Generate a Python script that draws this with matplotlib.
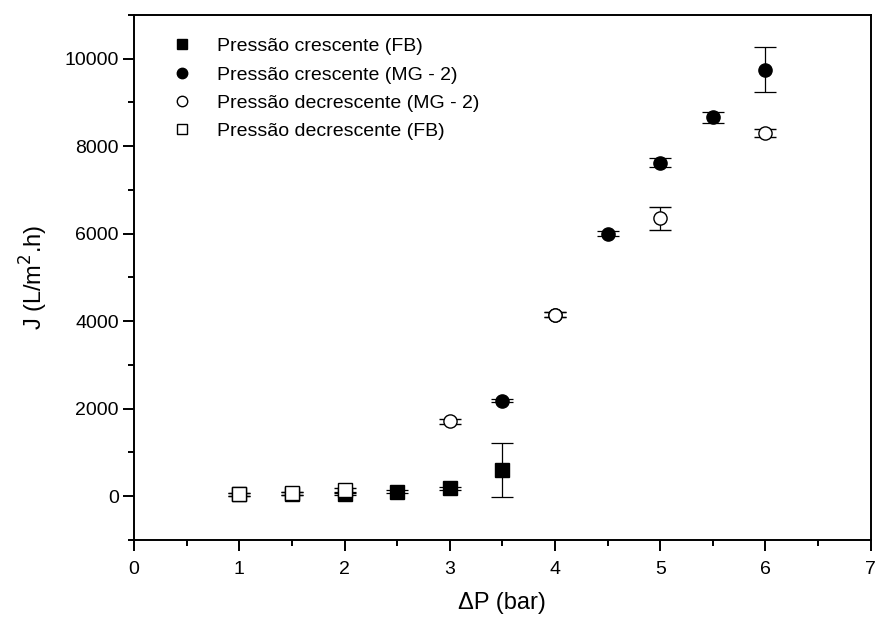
import matplotlib
matplotlib.use("Agg")
import matplotlib.pyplot as plt
from matplotlib.ticker import MultipleLocator

plt.rcParams['font.family'] = ['Liberation Sans', 'DejaVu Sans']

# --- dados ---
x_fb_up = [1.0, 1.5, 2.0, 2.5, 3.0, 3.5]
j_fb_up = [40, 60, 60, 100, 175, 590]
e_fb_up = [30, 30, 30, 30, 40, 615]

x_mg_up = [3.5, 4.0, 4.5, 5.0, 5.5, 6.0]
j_mg_up = [2180, 4150, 6000, 7625, 8660, 9750]
e_mg_up = [30, 50, 60, 110, 125, 520]

x_mg_down = [3.0, 4.0, 5.0, 6.0]
j_mg_down = [1710, 4150, 6355, 8300]
e_mg_down = [60, 50, 265, 100]

x_fb_down = [1.0, 1.5, 2.0]
j_fb_down = [40, 65, 135]
e_fb_down = [30, 30, 60]

labels = ['Pressão crescente (FB)', 'Pressão crescente (MG - 2)',
          'Pressão decrescente (MG - 2)', 'Pressão decrescente (FB)']

fig = plt.figure(figsize=(8.76, 6.22), dpi=100)
ax = fig.add_axes([0.153, 0.132, 0.841, 0.844])

eb_kw = dict(ecolor='black', elinewidth=0.9, capsize=8, capthick=0.9, linestyle='none')

ax.errorbar(x_fb_up, j_fb_up, yerr=e_fb_up, marker='s', ms=9.5, mfc='black', mec='black',
            label=labels[0], **eb_kw)
ax.errorbar(x_mg_up, j_mg_up, yerr=e_mg_up, marker='o', ms=9.5, mfc='black', mec='black',
            label=labels[1], **eb_kw)
ax.errorbar(x_mg_down, j_mg_down, yerr=e_mg_down, marker='o', ms=9.5, mfc='white', mec='black',
            mew=1.0, label=labels[2], **eb_kw)
ax.errorbar(x_fb_down, j_fb_down, yerr=e_fb_down, marker='s', ms=9.5, mfc='white', mec='black',
            mew=1.0, label=labels[3], **eb_kw)

ax.set_xlim(0, 7)
ax.set_ylim(-1000, 11000)
ax.xaxis.set_major_locator(MultipleLocator(1))
ax.xaxis.set_minor_locator(MultipleLocator(0.5))
ax.yaxis.set_minor_locator(MultipleLocator(1000))
ax.set_yticks(range(0, 10001, 2000))

for s in ax.spines.values():
    s.set_linewidth(1.4)
ax.tick_params(which='major', direction='out', length=8, width=1.4, labelsize=14)
ax.tick_params(which='minor', direction='out', length=4, width=1.4)
ax.tick_params(axis='x', which='major', pad=7)
ax.tick_params(axis='y', which='major', pad=3)
ax.tick_params(top=False, right=False)

ax.set_xlabel('ΔP (bar)', fontsize=17, labelpad=10)
ax.set_ylabel('J (L/m$^2$.h)', fontsize=17, labelpad=10)

# legenda só com os marcadores, sem barras
handles = [plt.Line2D([], [], marker='s', ms=7.5, mfc='black', mec='black', ls='none'),
           plt.Line2D([], [], marker='o', ms=7.5, mfc='black', mec='black', ls='none'),
           plt.Line2D([], [], marker='o', ms=7.5, mfc='white', mec='black', ls='none'),
           plt.Line2D([], [], marker='s', ms=7.5, mfc='white', mec='black', ls='none')]
ax.legend(handles, labels, loc='upper left', frameon=False, fontsize=14,
          bbox_to_anchor=(0.025, 0.99), handletextpad=1.2, labelspacing=0.55,
          handlelength=1.2)

fig.savefig('out.png', dpi=100)
